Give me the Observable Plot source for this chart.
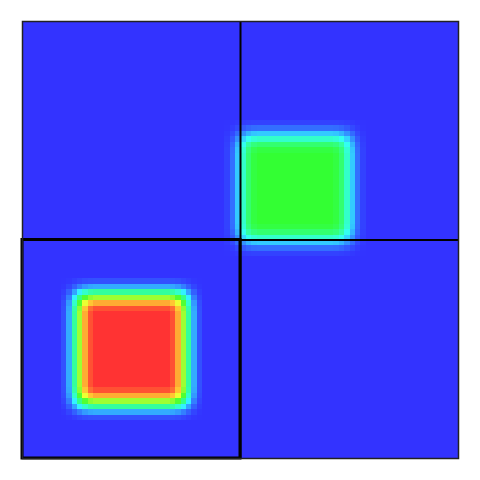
<!DOCTYPE html>
<html>
<head>
<meta charset="utf-8">
<script src="https://cdn.jsdelivr.net/npm/d3@7"></script>
<script src="https://cdn.jsdelivr.net/npm/@observablehq/plot@0.6"></script>
<style>
  html, body { margin: 0; padding: 0; background: #fff; }
  #chart { width: 480px; height: 480px; }
</style>
</head>
<body>
<div id="chart"></div>
<script>
// ---- data ----
const squareLabels = ["red square", "green square"];
const squareX1 = [0.26, 1.00];
const squareX2 = [0.755, 1.49];
const squareY1 = [0.24, 1.01];
const squareY2 = [0.74, 1.48];
const squareValues = [2, 1];
const backgroundValue = 0;
const gridCells = 80;      // raster resolution (cells per side)
const blurRadius = 1;      // smoothing of the field, in cells
const xDomain = [0, 2];
const yDomain = [0, 2];
const quadrantBreaks = [1];
const highlightQuadrant = [{x1: 0, x2: 1, y1: 0, y2: 1}];
const colorStops = [0, 0.5, 1, 1.5, 2];
const colorRange = ["#3333ff", "#33ffff", "#33ff33", "#ffff33", "#ff3333"];

// ---- build the value field from the squares ----
const W = gridCells, H = gridCells;
const field = new Float64Array(W * H).fill(backgroundValue);
for (let row = 0; row < H; ++row) {
  const y = yDomain[0] + (row + 0.5) * (yDomain[1] - yDomain[0]) / H;
  for (let col = 0; col < W; ++col) {
    const x = xDomain[0] + (col + 0.5) * (xDomain[1] - xDomain[0]) / W;
    for (let k = 0; k < squareValues.length; ++k) {
      if (x >= squareX1[k] && x <= squareX2[k] && y >= squareY1[k] && y <= squareY2[k]) {
        field[row * W + col] = squareValues[k];
      }
    }
  }
}
d3.blur2({data: field, width: W, height: H}, blurRadius);

const chart = Plot.plot({
  width: 480,
  height: 480,
  marginLeft: 22,
  marginRight: 22,
  marginTop: 21,
  marginBottom: 22,
  x: {domain: xDomain, axis: null},
  y: {domain: yDomain, axis: null},
  color: {type: "linear", domain: colorStops, range: colorRange, interpolate: "rgb", clamp: true},
  marks: [
    Plot.raster(Array.from(field), {
      width: W, height: H,
      x1: xDomain[0], x2: xDomain[1], y1: yDomain[0], y2: yDomain[1],
      imageRendering: "pixelated"
    }),
    Plot.ruleX(quadrantBreaks, {stroke: "black", strokeWidth: 2}),
    Plot.ruleY(quadrantBreaks, {stroke: "black", strokeWidth: 2}),
    Plot.rect(highlightQuadrant, {x1: "x1", x2: "x2", y1: "y1", y2: "y2", fill: "none", stroke: "black", strokeWidth: 3}),
    Plot.frame({stroke: "#222", strokeWidth: 1.5})
  ]
});
document.getElementById("chart").append(chart);
</script>
</body>
</html>
